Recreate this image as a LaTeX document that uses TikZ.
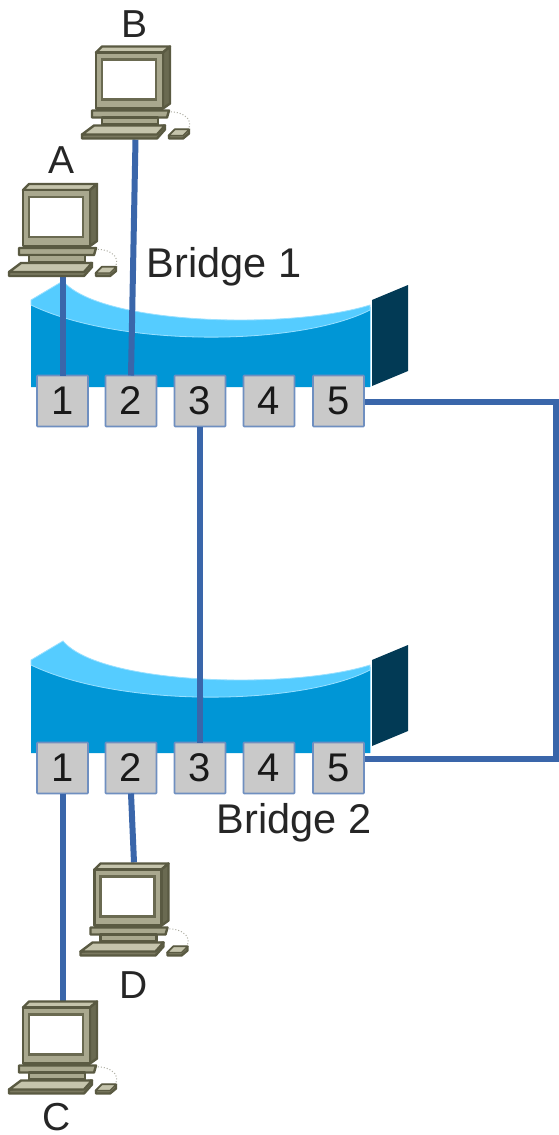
\documentclass[tikz,border=0pt]{standalone}
\usepackage{fontspec}
\setmainfont{Liberation Sans}
\definecolor{linkblue}{HTML}{3A66AA}
\definecolor{bodyblue}{HTML}{0096D6}
\definecolor{lightblue}{HTML}{55CCFF}
\definecolor{sidedark}{HTML}{023A55}
\definecolor{portgrey}{HTML}{C9C9C9}
\definecolor{portedge}{HTML}{6F8FC0}
\definecolor{pcedge}{HTML}{5A5A42}
\definecolor{pcfill}{HTML}{A9A88E}
\definecolor{pclight}{HTML}{C5C4AC}
\tikzset{
  portbox/.style={draw=portedge,line width=1.6pt,fill=portgrey,minimum width=51pt,minimum height=51pt,inner sep=0pt,outer sep=0pt,font=\fontsize{40}{40}\selectfont,rounded corners=0.8pt,text=black!90},
  pcbox/.style={minimum width=109pt,minimum height=94pt,inner sep=0pt,outer sep=0pt},
  link/.style={draw=linkblue,line width=6pt},
  lbl/.style={font=\fontsize{39}{39}\selectfont,inner sep=0pt,text=black!85},
  widelbl/.style={font=\fontsize{41.5}{41.5}\selectfont,inner sep=0pt,text=black!85},
  pcpart/.style={draw=pcedge,line width=2.4pt,line join=round}
}
\newcommand{\pcdraw}[1]{%
  \begin{scope}[shift={(#1.north west)}]
    \draw[pcpart,fill=pclight] (15,7) -- (21,1) -- (89,1) -- (82,7) -- cycle;
    \draw[pcpart,fill=pcedge!80!pcfill] (82,7) -- (89,1) -- (89,58) -- (82,63) -- cycle;
    \draw[pcpart,fill=pcfill] (15,7) rectangle (82,63);
    \draw[draw=pcedge!80!pcfill,line width=2.4pt,fill=white] (21,14) rectangle (75,54);
    \draw[draw=pcedge!50!white,dotted,line width=1pt] (78,68) .. controls (100,62) and (114,74) .. (107,84);
    \draw[pcpart,fill=pcfill] (11,65) -- (88,65) -- (86,72) -- (11,72) -- cycle;
    \draw[pcpart,fill=pcfill] (21,72) rectangle (77,79);
    \draw[pcpart,fill=pcedge!60!pcfill] (1,89) -- (1,93) -- (76,93) -- (84,84) -- (84,80) -- cycle;
    \draw[pcpart,fill=pclight] (1,89) -- (13,80) -- (84,80) -- (76,89) -- cycle;
    \draw[pcpart,fill=pcedge!60!pcfill] (88,93) -- (88,90) -- (94,84) -- (108,84) -- (108,88) -- (102,93) -- cycle;
    \draw[draw=pcedge,line width=1.2pt,fill=pclight] (88,90) -- (94,84) -- (108,84) -- (102,90) -- cycle;
  \end{scope}}
\newcommand{\bridgebody}[2]{%
  \begin{scope}[yshift=#1]
    \fill[bodyblue] (31,304) .. controls (120,348) and (300,346) .. (370,309) -- (370,#2) -- (31,#2) -- cycle;
    \fill[lightblue,draw=lightblue!60!white,line width=0.8pt] (31,300) -- (63,281) .. controls (100,325) and (290,330) .. (370,305) -- (370,310) .. controls (300,346) and (120,348) .. (31,305) -- cycle;
    \draw[lightblue!60!white,line width=1pt] (370,307) -- (370,#2);
    \fill[sidedark] (372,300) -- (408,285) -- (408,371) -- (372,386) -- cycle;
  \end{scope}}
\begin{document}
\begin{tikzpicture}[x=1pt,y=-1pt]
\useasboundingbox (0,0) rectangle (559,1135);
\fill[white] (0,0) rectangle (559,1135);

\bridgebody{0pt}{387}
\bridgebody{-360pt}{393}

\node[pcbox] (A) at (62.5,230) {};
\node[pcbox] (B) at (135.5,92.5) {};
\node[pcbox] (C) at (62.5,1047.5) {};
\node[pcbox] (D) at (134,909.5) {};

\node[portbox] (a1) at (62.5,401) {1};
\node[portbox] (a2) at (131,401) {2};
\node[portbox] (a3) at (200,401) {3};
\node[portbox] (a4) at (269,401) {4};
\node[portbox] (a5) at (338.5,401) {5};
\node[portbox] (b1) at (62.5,768) {1};
\node[portbox] (b2) at (131,768) {2};
\node[portbox] (b3) at (200,768) {3};
\node[portbox] (b4) at (269,768) {4};
\node[portbox] (b5) at (338.5,768) {5};

\coordinate (cornerT) at (555.5,402);
\coordinate (cornerB) at (555.5,759);
\coordinate (a5e) at (365,402);
\coordinate (b5e) at (365,759);

\draw[link] (A.south) -- (a1.north);
\draw[link] (B.south) -- (a2.north);
\draw[link] (a3.south) -- (b3.north);
\draw[link] (b1.south) -- (C.north);
\draw[link] (b2.south) -- (D.north);
\draw[link,line join=miter] (a5e) -- (cornerT) -- (cornerB) -- (b5e);

\pcdraw{A}
\pcdraw{B}
\pcdraw{C}
\pcdraw{D}

\node[lbl] (lA) at (62,160) {A};
\node[lbl] (lB) at (135,24) {B};
\node[lbl] (lC) at (57,1117.5) {C};
\node[lbl] (lD) at (134,985) {D};
\node[widelbl] (lB1) at (224,267) {Bridge 1};
\node[widelbl] (lB2) at (294,823) {Bridge 2};
\end{tikzpicture}
\end{document}
